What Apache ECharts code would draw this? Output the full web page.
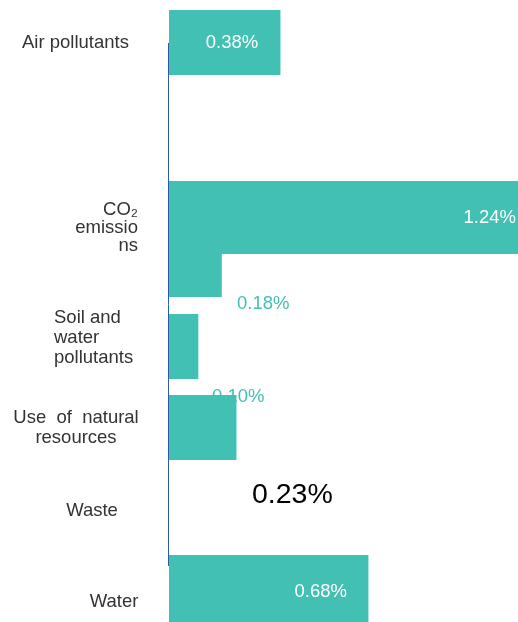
<!DOCTYPE html>
<html>
<head>
<meta charset="utf-8">
<script src="https://cdn.jsdelivr.net/npm/echarts@6/dist/echarts.min.js"></script>
<style>
  html, body { margin: 0; padding: 0; background: #fff; }
  #chart { width: 518px; height: 622px; }
</style>
</head>
<body>
<div id="chart"></div>
<script>
// data
const categories = ['Air pollutants', 'CO₂ emissions', 'Soil and water pollutants', 'Use of natural resources', 'Waste', 'Water']
const categoryLines = ['Air pollutants', 'CO₂\nemissio\nns', 'Soil and\nwater\npollutants', 'Use  of  natural\nresources', 'Waste', 'Water']
const shares = [0.38, 1.24, 0.18, 0.10, 0.23, 0.68]
const shareLabels = shares.map(v => v.toFixed(2) + '%')

// layout (vertical spans in axis units, text anchors)
const barSpans = [[10, 75], [181, 254], [254, 297], [314, 379], [395, 460], [555, 622]]
const valueLabelPos = [
  { x: 232, y: 43, align: 'center', color: '#fff', size: 18.5 },
  { x: 516, y: 218, align: 'right', color: '#fff', size: 18.5 },
  { x: 237, y: 304, align: 'left', color: '#43c0b4', size: 18.5 },
  { x: 212, y: 397, align: 'left', color: '#43c0b4', size: 18.5 },
  { x: 252, y: 495, align: 'left', color: '#000', size: 28.5 },
  { x: 347, y: 592, align: 'right', color: '#fff', size: 18.5 }
]
const catLabelPos = [
  { x: 22, y: 43, align: 'left', lh: 18 },
  { x: 138, y: 228, align: 'right', lh: 18 },
  { x: 54, y: 338, align: 'left', lh: 20 },
  { x: 76, y: 428, align: 'center', lh: 20 },
  { x: 92, y: 511, align: 'center', lh: 20 },
  { x: 114, y: 602, align: 'center', lh: 20 }
]

const FONT = '"Liberation Sans", Arial, sans-serif'
const TEAL = '#43c0b4'

const chart = echarts.init(document.getElementById('chart'))

const option = {
  animation: false,
  backgroundColor: '#fff',
  grid: { left: 169, right: 0, top: 0, bottom: 0 },
  xAxis: { type: 'value', min: 0, max: 1.19, show: false },
  yAxis: { type: 'value', min: 0, max: 622, inverse: true, show: false },
  series: [
    {
      // vertical axis line
      type: 'custom',
      z: 1,
      clip: false,
      data: [[0, 0]],
      renderItem: (params, api) => {
        const top = api.coord([0, 43])
        const bottom = api.coord([0, 566])
        return {
          type: 'line',
          shape: { x1: top[0] - 0.5, y1: top[1], x2: bottom[0] - 0.5, y2: bottom[1] },
          style: { stroke: '#2a5ea3', lineWidth: 1 }
        }
      }
    },
    {
      type: 'custom',
      z: 2,
      clip: true,
      data: shares.map((v, i) => [v, i]),
      renderItem: (params, api) => {
        const i = api.value(1)
        const start = api.coord([0, barSpans[i][0]])
        const end = api.coord([api.value(0), barSpans[i][1]])
        const lp = valueLabelPos[i]
        return {
          type: 'group',
          children: [
            {
              type: 'rect',
              shape: { x: start[0], y: start[1], width: end[0] - start[0], height: end[1] - start[1] },
              style: { fill: TEAL }
            },
            {
              type: 'text',
              style: {
                text: shareLabels[i],
                x: lp.x,
                y: api.coord([0, lp.y])[1],
                align: lp.align,
                verticalAlign: 'middle',
                fontSize: lp.size,
                fontFamily: FONT,
                fill: lp.color
              }
            }
          ]
        }
      }
    },
    {
      // category labels
      type: 'custom',
      z: 3,
      clip: false,
      data: categories.map((c, i) => [0, i]),
      renderItem: (params, api) => {
        const i = api.value(1)
        const p = catLabelPos[i]
        return {
          type: 'text',
          style: {
            text: categoryLines[i],
            x: p.x,
            y: api.coord([0, p.y])[1],
            align: p.align,
            verticalAlign: 'middle',
            fontSize: 18.5,
            lineHeight: p.lh,
            fontFamily: FONT,
            fill: '#333'
          }
        }
      }
    }
  ]
}

chart.setOption(option)
window.addEventListener('resize', () => chart.resize())
</script>
</body>
</html>
